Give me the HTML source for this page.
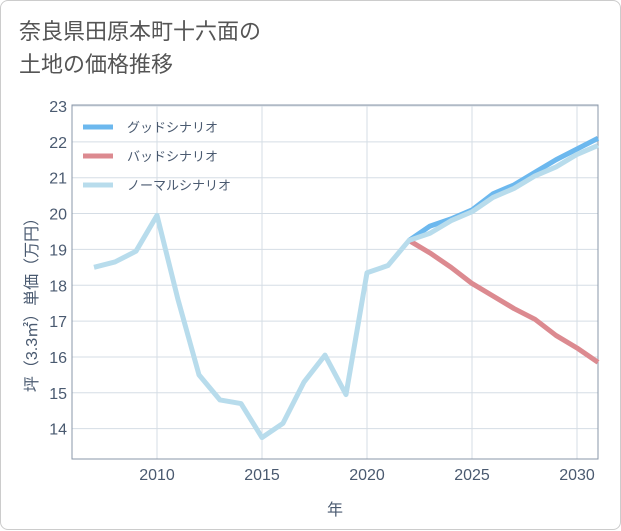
<!DOCTYPE html>
<html><head><meta charset="utf-8"><style>
body{margin:0;background:#fff;font-family:"Liberation Sans","Noto Sans CJK JP",sans-serif;}
.card{position:absolute;left:0;top:0;width:619px;height:528px;border:1px solid #ccc;border-radius:8px;background:#fff;}
.title{position:absolute;left:18px;top:14px;font-size:22px;line-height:33px;color:#555;}
</style></head><body>
<div class="card">
<div class="title">奈良県田原本町十六面の<br>土地の価格推移</div>
<svg id="chart" width="621" height="530" style="position:absolute;left:0;top:0"></svg>
</div>
<script>
const normalYears=[2007,2008,2009,2010,2011,2012,2013,2014,2015,2016,2017,2018,2019,2020,2021,2022,2023,2024,2025,2026,2027,2028,2029,2030,2031];
const normalVals=[18.5,18.65,18.95,19.95,17.6,15.5,14.8,14.7,13.75,14.15,15.3,16.05,14.95,18.35,18.55,19.25,19.45,19.8,20.05,20.45,20.7,21.05,21.3,21.65,21.9];
const futureYears=[2022,2023,2024,2025,2026,2027,2028,2029,2030,2031];
const goodVals=[19.25,19.65,19.85,20.1,20.55,20.8,21.15,21.5,21.8,22.1];
const badVals=[19.25,18.9,18.5,18.05,17.7,17.35,17.05,16.6,16.25,15.85];
const xTicks=[2010,2015,2020,2025,2030];
const yTicks=[14,15,16,17,18,19,20,21,22,23];
const L=71,R=597,T=104,B=458;
const xs=y=>156+(y-2010)*21;
const ys=v=>105+(23-v)*35.85;
const svg=document.getElementById('chart');
const NS='http://www.w3.org/2000/svg';
function mk(t,a){const e=document.createElementNS(NS,t);for(const k in a)e.setAttribute(k,a[k]);svg.appendChild(e);return e;}
for(const t of xTicks){const l=mk('line',{x1:xs(t),x2:xs(t),y1:T,y2:B,stroke:'#d5dde5'});


const tx=mk('text',{x:xs(t),y:479,'text-anchor':'middle','font-size':16,fill:'#4a5a70'});tx.textContent=t;

}
for(const t of yTicks){const l=mk('line',{x1:L,x2:R,y1:ys(t),y2:ys(t),stroke:'#d5dde5'});


const tx=mk('text',{x:66,y:ys(t)+6,'text-anchor':'end','font-size':16,fill:'#4a5a70'});tx.textContent=t;

}
const fr=mk('rect',{x:L,y:T,width:R-L,height:B-T,fill:'none',stroke:'#8a97a8'});


function line(xa,va,c,n){const p=mk('polyline',{points:xa.map((y,i)=>xs(y)+','+ys(va[i])).join(' '),fill:'none',stroke:c,'stroke-width':5,'stroke-linejoin':'round'});

}
line(futureYears,badVals,'#dc8a90','bad-scenario-line');
line(futureYears,goodVals,'#6cb8ee','good-scenario-line');
line(normalYears,normalVals,'#b8dcec','normal-scenario-line');
const leg=[['グッドシナリオ','#6cb8ee',126],['バッドシナリオ','#dc8a90',155],['ノーマルシナリオ','#b8dcec',184]];
for(const [n,c,y] of leg){const l=mk('line',{x1:82,x2:112,y1:y,y2:y,stroke:c,'stroke-width':5});


const t=mk('text',{x:126,y:y+5,'font-size':13,fill:'#4a5a70'});t.textContent=n;

}
const xt=mk('text',{x:334,y:514,'text-anchor':'middle','font-size':16,fill:'#4a5a70'});xt.textContent='年';


const yt=mk('text',{x:0,y:0,'text-anchor':'middle','font-size':16,fill:'#4a5a70',transform:'translate(36,300) rotate(-90)'});yt.textContent='坪（3.3㎡）単価（万円）';


</script>
</body></html>
